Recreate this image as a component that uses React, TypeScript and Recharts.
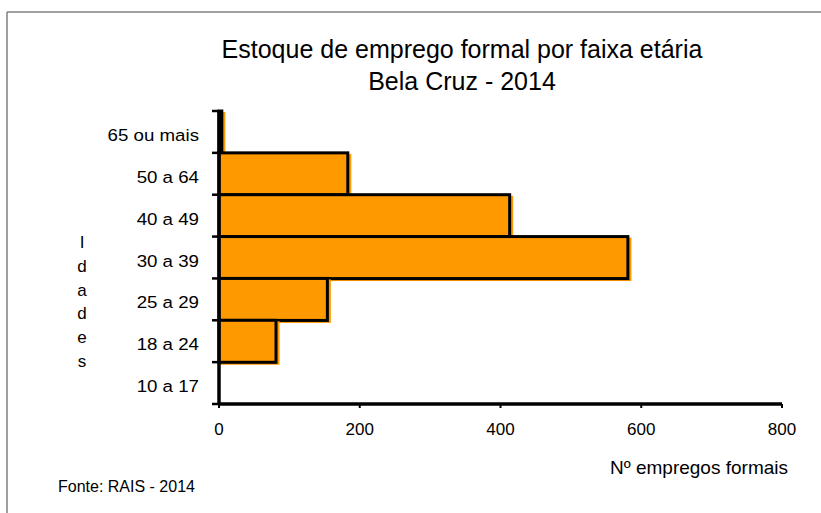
import React from 'react';
import { BarChart, Bar, XAxis, YAxis } from 'recharts';

const categories = ['65 ou mais', '50 a 64', '40 a 49', '30 a 39', '25 a 29', '18 a 24', '10 a 17'];
const empregos = [4, 183, 413, 581, 154, 81, 0];
const xTicks = [0, 200, 400, 600, 800];

const data = categories.map((c, i) => ({ faixa: c, valor: empregos[i] }));

const W = 821;
const H = 513;
const PLOT_LEFT = 219;
const PLOT_RIGHT = 782;
const PLOT_TOP = 111;
const PLOT_BOTTOM = 404;
const FONT = '"Liberation Sans", Arial, sans-serif';
const ORANGE = '#FF9900';

const YTick = (props: any) => {
  const { y, payload, index } = props;
  const band = (PLOT_BOTTOM - PLOT_TOP) / categories.length;
  const top = y - band / 2;
  return (
    <g>
      <line x1={PLOT_LEFT - 7} x2={PLOT_LEFT} y1={top} y2={top} stroke="#000" strokeWidth={2.5} />
      {index === categories.length - 1 && (
        <line x1={PLOT_LEFT - 7} x2={PLOT_LEFT} y1={y + band / 2} y2={y + band / 2} stroke="#000" strokeWidth={2.5} />
      )}
      <text
        transform={`translate(199, ${y + 9}) scale(1.1, 1)`}
        x={0}
        y={0}
        textAnchor="end"
        fontFamily={FONT}
        fontSize={17}
        fill="#000"
      >
        {payload.value}
      </text>
    </g>
  );
};

const BarShape = (props: any) => {
  const { x, y, width, height } = props;
  if (!width || width <= 0) return null;
  return (
    <g>
      <rect x={x + 1} y={y + 1} width={width + 2.5} height={height + 1.5} fill={ORANGE} />
      <rect x={x} y={y} width={width} height={height} fill={ORANGE} stroke="#000" strokeWidth={3} />
    </g>
  );
};

const idades = ['I', 'd', 'a', 'd', 'e', 's'];

export default function App() {
  return (
    <div style={{ position: 'absolute', left: 0, top: 0, width: W, height: H, background: '#fff' }}>
      <BarChart
        width={W}
        height={H}
        data={data}
        layout="vertical"
        barCategoryGap={0}
        margin={{ top: PLOT_TOP, right: W - PLOT_RIGHT, bottom: H - PLOT_BOTTOM - 40, left: 0 }}
      >
        <XAxis
          type="number"
          domain={[0, 800]}
          ticks={xTicks}
          height={40}
          axisLine={{ stroke: '#000', strokeWidth: 3.5 }}
          tickLine={{ stroke: '#000', strokeWidth: 2 }}
          tickSize={4}
          tickMargin={15}
          tick={{ fontFamily: FONT, fontSize: 17, fill: '#000' }}
        />
        <YAxis
          type="category"
          dataKey="faixa"
          width={PLOT_LEFT}
          axisLine={{ stroke: '#000', strokeWidth: 3.5 }}
          tickLine={false}
          tick={<YTick />}
          interval={0}
        />
        <Bar dataKey="valor" isAnimationActive={false} shape={<BarShape />} />
      </BarChart>
      <svg
        width={W}
        height={H}
        style={{ position: 'absolute', left: 0, top: 0, pointerEvents: 'none' }}
      >
        <line x1={7} x2={W} y1={12} y2={12} stroke="#808080" strokeWidth={1.5} />
        <line x1={7} x2={7} y1={12} y2={H} stroke="#808080" strokeWidth={1.5} />
        <text x={462} y={58} textAnchor="middle" fontFamily={FONT} fontSize={25} fill="#000">
          Estoque de emprego formal por faixa etária
        </text>
        <text x={462} y={90} textAnchor="middle" fontFamily={FONT} fontSize={25} fill="#000">
          Bela Cruz - 2014
        </text>
        {idades.map((ch, i) => (
          <text key={i} x={82} y={248 + 23.8 * i} textAnchor="middle" fontFamily={FONT} fontSize={17} fill="#000">
            {ch}
          </text>
        ))}
        <text x={610} y={474} fontFamily={FONT} fontSize={19} fill="#000">
          Nº empregos formais
        </text>
        <text x={58} y={492} fontFamily={FONT} fontSize={16} fill="#000">
          Fonte: RAIS - 2014
        </text>
      </svg>
    </div>
  );
}
